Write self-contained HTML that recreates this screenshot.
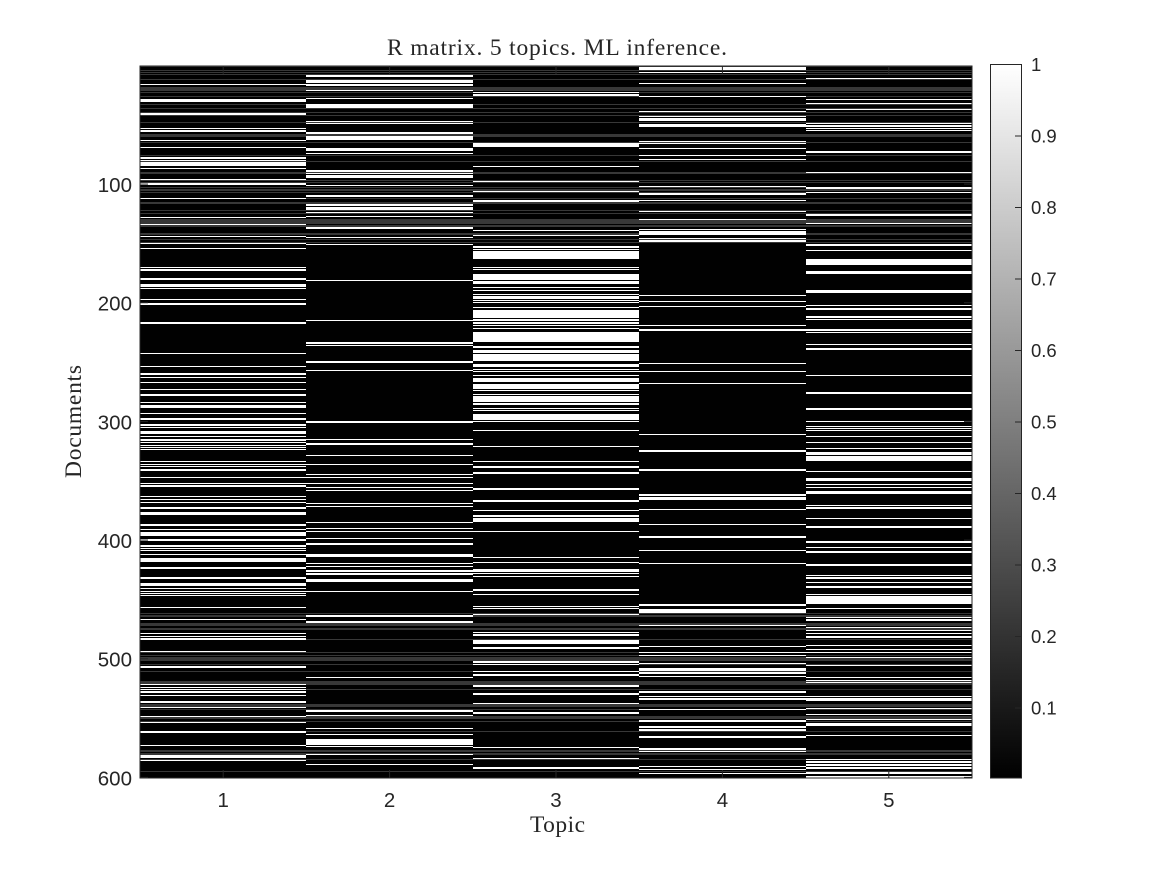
<!DOCTYPE html>
<html lang="en">
<head>
<meta charset="utf-8">
<title>R matrix. 5 topics. ML inference.</title>
<style>
html,body{margin:0;padding:0;background:#fff;}
svg{display:block;}
text{fill:#262626;font-family:"Liberation Sans",sans-serif;}
.serif{font-family:"Liberation Serif",serif;}
</style>
</head>
<body>
<svg id="chart" xmlns="http://www.w3.org/2000/svg" width="1167" height="875" viewBox="0 0 1167 875">
  <defs>
    <linearGradient id="grayMap" x1="0" y1="0" x2="0" y2="1">
      <stop offset="0" stop-color="#ffffff"/>
      <stop offset="1" stop-color="#000000"/>
    </linearGradient>
  </defs>
  <rect x="0" y="0" width="1167" height="875" fill="#ffffff"/>
  <text class="serif" x="557" y="55" font-size="23.5" text-anchor="middle" textLength="340" lengthAdjust="spacing">R matrix. 5 topics. ML inference.</text>
  <g id="heatmap"></g>
  <g id="axes"></g>
  <text class="serif" x="557.5" y="832" font-size="23.5" text-anchor="middle" textLength="55" lengthAdjust="spacing">Topic</text>
  <text class="serif" transform="translate(81,421.5) rotate(-90)" font-size="23.5" text-anchor="middle" textLength="113" lengthAdjust="spacing">Documents</text>
  <g id="colorbar"></g>
</svg>
<script>
const topics = [1, 2, 3, 4, 5];
const documentCount = 600;
const yTickLabels = [100, 200, 300, 400, 500, 600];
const colorbarTicks = [0.1, 0.2, 0.3, 0.4, 0.5, 0.6, 0.7, 0.8, 0.9, 1];
const baseValue = 0.004;
const emptyDocValue = 0.22;
const peakValue = 1;
const emptyDocs = [1,4,6,8,12,19,20,21,23,26,33,36,40,42,48,58,59,60,65,76,81,90,91,97,99,103,105,107,112,116,122,125,130,131,132,133,135,136,142,147,149,462,464,470,471,472,475,484,495,497,499,500,501,505,511,519,520,521,522,526,539,540,543,549,550,553,561,577,578,580,581,585,595];
const topic1Docs = [16,29,30,41,53,55,56,63,69,78,80,82,83,84,87,96,100,112,128,134,144,150,154,170,172,173,180,185,186,188,197,201,217,243,254,260,263,267,273,277,278,284,287,288,293,298,303,305,309,310,313,315,316,318,320,322,324,334,336,338,341,347,352,354,355,363,366,368,373,377,378,387,388,391,394,395,396,400,405,407,409,412,416,417,418,423,424,432,437,438,441,443,445,447,457,467,479,481,483,484,494,507,522,524,526,528,531,536,537,541,549,554,561,562,573,582,583,586];
const topic2Docs = [9,13,14,16,17,21,28,33,34,35,47,49,57,60,61,62,70,71,72,74,89,91,93,94,101,110,117,118,120,121,124,127,137,145,151,181,215,234,236,250,257,300,301,315,319,329,336,345,347,352,356,358,369,372,385,390,393,399,403,404,412,413,414,420,422,426,428,429,433,434,435,443,464,469,516,544,548,559,564,568,569,570,571,572,574,581,589];
const topic3Docs = [23,25,66,67,68,85,98,106,114,115,139,143,153,155,157,158,159,160,161,162,163,170,172,176,177,178,179,180,182,183,184,187,190,193,195,196,198,200,204,207,208,209,210,211,212,214,215,217,219,222,225,226,227,228,229,230,231,232,233,237,238,240,241,242,244,245,246,247,248,249,252,253,254,256,258,261,264,265,266,269,270,271,272,274,277,279,280,281,282,283,285,286,289,291,294,295,296,297,298,300,308,321,334,338,339,343,344,357,367,375,379,380,382,383,384,393,415,419,425,426,428,431,442,446,456,458,463,478,480,485,486,487,491,502,503,505,511,513,514,523,529,530,538,545,546,575,584,592];
const topic4Docs = [2,3,6,15,26,39,43,45,46,50,51,64,66,70,76,79,102,108,109,114,123,130,138,140,141,142,146,148,194,199,203,219,223,251,258,268,311,325,341,362,364,365,366,374,387,397,398,409,420,454,455,459,460,461,472,490,495,497,504,508,509,510,512,515,528,532,534,543,552,553,557,558,560,566,576,578,591,593,597];
const topic5Docs = [11,29,32,37,49,51,53,55,73,90,103,104,107,126,133,151,152,156,164,165,166,167,168,174,175,190,191,202,205,206,212,214,223,225,235,239,261,276,289,290,300,304,306,308,313,318,323,326,327,328,330,331,332,333,342,348,349,350,353,356,359,360,361,371,373,382,389,401,402,406,410,421,430,432,436,439,440,446,448,449,450,451,452,453,458,465,467,468,474,476,479,481,482,489,492,495,499,506,516,518,520,532,534,535,542,547,551,555,556,565,585,587,589,590,592,596,597,599,600];
const topicDocs = [topic1Docs, topic2Docs, topic3Docs, topic4Docs, topic5Docs];

const SVGNS = 'http://www.w3.org/2000/svg';
const plotLeft = 140, plotRight = 972, plotTop = 66, plotBottom = 778;
const inkColor = '#262626';

function xEdge(t) { return plotLeft + (t - 1) * (plotRight - plotLeft) / topics.length; }
function xCenter(t) { return xEdge(t) + (plotRight - plotLeft) / topics.length / 2; }
function yCenter(d) { return plotTop + (d - 0.5) * (plotBottom - plotTop) / documentCount; }
function cbY(v) { return 779.5 - 715 * v; }
function grayOf(v) { const c = Math.round(Math.max(0, Math.min(1, v)) * 255); return 'rgb(' + c + ',' + c + ',' + c + ')'; }

function make(tag, attrs, parent) {
  const el = document.createElementNS(SVGNS, tag);
  for (const k in attrs) el.setAttribute(k, attrs[k]);
  parent.appendChild(el);
  return el;
}

const heatmap = document.getElementById('heatmap');
const axes = document.getElementById('axes');
const colorbar = document.getElementById('colorbar');

const backdrop = make('rect', { x: plotLeft, y: plotTop, width: plotRight - plotLeft, height: plotBottom - plotTop, fill: grayOf(baseValue) }, heatmap);



topics.forEach(function (topic, ti) {
  const values = {};
  emptyDocs.forEach(function (d) { values[d] = emptyDocValue; });
  topicDocs[ti].forEach(function (d) { values[d] = peakValue; });
  Object.keys(values).forEach(function (key) {
    const d = Number(key);
    const x0 = Math.round(xEdge(topic));
    const x1 = Math.round(xEdge(topic + 1));
    const y0 = Math.round(plotTop + (d - 1) * (plotBottom - plotTop) / documentCount);
    const y1 = Math.round(plotTop + d * (plotBottom - plotTop) / documentCount);
    const cell = make('rect', { x: x0, y: y0, width: x1 - x0, height: Math.max(1, y1 - y0), fill: grayOf(values[d]), 'shape-rendering': 'crispEdges' }, heatmap);
    
    
  });
});

const frame = make('rect', { x: plotLeft, y: plotTop, width: plotRight - plotLeft, height: plotBottom - plotTop, fill: 'none', stroke: inkColor, 'stroke-width': 1 }, axes);



topics.forEach(function (topic) {
  const x = xCenter(topic);
  const bottomTick = make('line', { x1: x, x2: x, y1: plotBottom, y2: plotBottom - 8, stroke: inkColor, 'stroke-width': 1 }, axes);
  
  
  const topTick = make('line', { x1: x, x2: x, y1: plotTop, y2: plotTop + 8, stroke: inkColor, 'stroke-width': 1 }, axes);
  
  
  const label = make('text', { x: x, y: 807, 'font-size': 20.5, 'text-anchor': 'middle' }, axes);
  
  
  label.textContent = String(topic);
});

yTickLabels.forEach(function (doc) {
  const y = yCenter(doc);
  const leftTick = make('line', { x1: plotLeft, x2: plotLeft + 8, y1: y, y2: y, stroke: inkColor, 'stroke-width': 1 }, axes);
  
  
  const rightTick = make('line', { x1: plotRight, x2: plotRight - 8, y1: y, y2: y, stroke: inkColor, 'stroke-width': 1 }, axes);
  
  
  const label = make('text', { x: 132, y: y + 8, 'font-size': 20.5, 'text-anchor': 'end' }, axes);
  
  
  label.textContent = String(doc);
});

const cbBar = make('rect', { x: 990.5, y: 64.5, width: 31, height: 713.5, fill: 'url(#grayMap)', stroke: inkColor, 'stroke-width': 1 }, colorbar);



colorbarTicks.forEach(function (v) {
  const y = cbY(v);
  const tick = make('line', { x1: 1015, x2: 1021.5, y1: y, y2: y, stroke: inkColor, 'stroke-width': 1 }, colorbar);
  
  
  const label = make('text', { x: 1031, y: y + 6.5, 'font-size': 18.5 }, colorbar);
  
  
  label.textContent = String(v);
});
</script>
</body>
</html>
